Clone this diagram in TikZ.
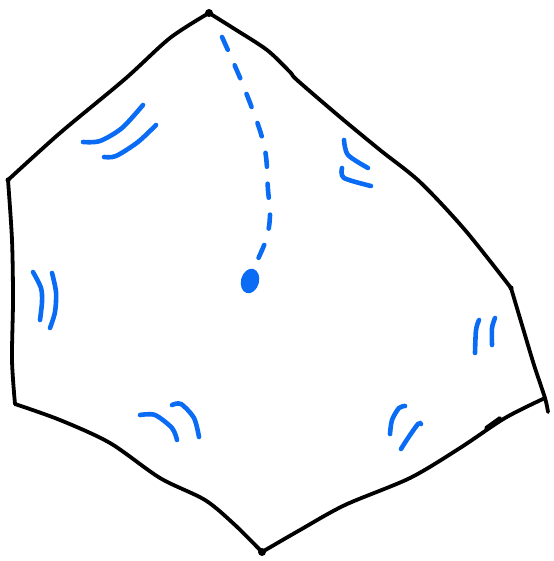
\documentclass[tikz,border=0pt]{standalone}
\usepackage{xcolor}
\definecolor{Ink}{HTML}{000000}
\definecolor{Mark}{HTML}{0A6CF5}
\usepackage{tikz}
\usetikzlibrary{arrows.meta,positioning,calc,shapes.geometric}
\tikzset{
  edge/.style={draw=Ink,line width=3.8pt,line cap=round,line join=round},
  tick/.style={draw=Mark,line width=4.6pt,line cap=round},
  radius line/.style={tick,dash pattern=on 14pt off 17pt},
  centredot/.style={ellipse,fill=Mark,inner sep=0pt,minimum width=18pt,minimum height=25pt,rotate=-15}
}
\begin{document}
\begin{tikzpicture}[x=1pt,y=-1pt]
  \useasboundingbox (0,0) rectangle (553,561);
  % corners of the hexagon
  \coordinate (top) at (209,13);
  \coordinate (ul) at (8,180);
  \coordinate (ll) at (15,404);
  \coordinate (bot) at (262,552);
  \coordinate (lr) at (545,398);
  \coordinate (ur) at (511,288);
  % sides
  \draw[edge] plot[smooth,tension=0.5] coordinates
    {(top) (170,38) (125,79) (60,133) (ul)};
  \draw[edge] plot[smooth,tension=0.5] coordinates
    {(top) (233,28) (267,50) (290,72) (297,80) (340,117) (380,150) (420,182) (465,230) (ur)};
  \draw[edge] plot[smooth,tension=0.5] coordinates
    {(ul) (12,240) (13,300) (12,360) (ll)};
  \draw[edge] plot[smooth,tension=0.5] coordinates
    {(ur) (522,325) (534,365) (lr) (548,412)};
  \draw[edge] plot[smooth,tension=0.5] coordinates
    {(ll) (60,420) (110,443) (160,478) (205,500) (235,525) (bot)};
  \draw[edge] plot[smooth,tension=0.5] coordinates
    {(bot) (300,530) (345,505) (410,478) (460,448) (505,418) (lr)};
  \draw[edge] (486,428) -- (500,418);
  \fill[Ink] (top) circle (4pt) (bot) circle (4pt) (ul) circle (2.5pt) (ur) circle (2.5pt);
  % tick marks
  \draw[tick] plot[smooth] coordinates {(83,142) (100,141) (122,128) (143,105)};
  \draw[tick] plot[smooth] coordinates {(104,157) (116,156) (138,142) (156,125)};
  \draw[tick] plot[smooth] coordinates {(344,140) (348,155) (368,168)};
  \draw[tick] plot[smooth] coordinates {(342,168) (344,178) (371,186)};
  \draw[tick] plot[smooth] coordinates {(33,272) (41,288) (42,302) (40,320)};
  \draw[tick] plot[smooth] coordinates {(52,273) (56,292) (55,312) (50,328)};
  \draw[tick] plot[smooth] coordinates {(479,320) (476,330) (475,353)};
  \draw[tick] plot[smooth] coordinates {(495,318) (492,328) (492,345)};
  \draw[tick] plot[smooth] coordinates {(140,415) (155,415) (172,428) (177,440)};
  \draw[tick] plot[smooth] coordinates {(172,405) (181,404) (194,418) (199,437)};
  \draw[tick] plot[smooth] coordinates {(405,406) (399,408) (392,420) (390,434)};
  \draw[tick] plot[smooth] coordinates {(421,424) (418,424) (408,438) (401,449)};
  % centre and radius
  \node[centredot] (centre) at (250,281) {};
  \coordinate (start) at (222,37);
  \draw[radius line] plot[smooth,tension=0.6] coordinates
    {(start) (245,90) (264,145) (268,190) (270,215) (266,240) (centre.north)};
\end{tikzpicture}
\end{document}
